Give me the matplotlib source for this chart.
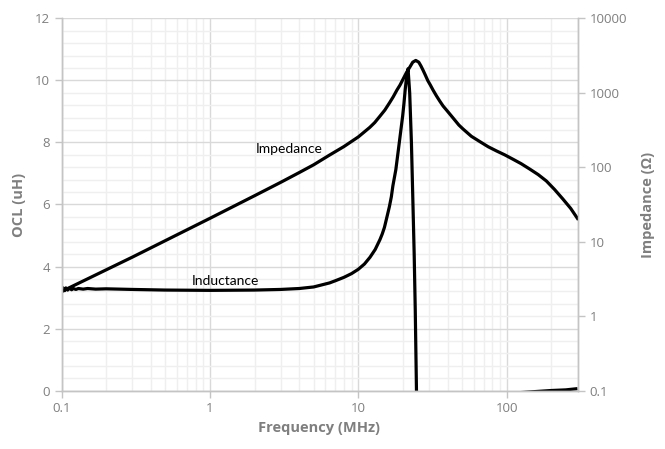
import matplotlib.pyplot as plt
from matplotlib.ticker import FixedLocator, FixedFormatter, NullFormatter, NullLocator
import numpy as np

# inductance (OCL), uH
ind_freq = [0.1, 0.101, 0.102, 0.103, 0.105, 0.107, 0.11, 0.113, 0.117, 0.12, 0.125, 0.13,
            0.14, 0.15, 0.17, 0.2, 0.3, 0.5, 1, 2, 3, 4, 5, 6.4, 7, 8, 9, 10, 11, 12, 13, 14, 14.5, 15,
            15.6, 16.2, 16.7, 17.1, 17.9, 18.7, 19.3, 19.9, 20.3, 20.7, 21.2, 21.64, 22.2, 22.8, 23.3, 23.8,
            24.2, 24.66, 25, 26, 30, 40, 60, 100, 150, 200, 250, 300]
ind_val = [3.18, 3.32, 3.21, 3.30, 3.22, 3.31, 3.24, 3.30, 3.25, 3.29, 3.26, 3.29,
           3.27, 3.29, 3.27, 3.28, 3.26, 3.24, 3.23, 3.24, 3.26, 3.29, 3.34, 3.47, 3.54, 3.65, 3.77, 3.91,
           4.08, 4.30, 4.55, 4.87, 5.05, 5.26,
           5.6, 5.93, 6.25, 6.6, 7.12, 7.83, 8.35, 8.85, 9.25, 9.7, 10.15, 10.38, 9.6, 8.0, 6.2, 4.4,
           2.6, 0.0, -1.5, -3.0, -1.5, -0.6, -0.25, -0.1, -0.04, 0.0, 0.02, 0.06]

# impedance, ohm
imp_freq = [0.1, 0.3, 1, 2, 3, 4, 5, 6.4, 8, 10, 11.95, 12.9, 13.96, 15.1, 16.3, 17.2, 18.2,
            19.1, 20.03, 21.1, 22.23, 23.28, 24.39, 25.55, 26.4, 27.3, 28.3, 29.4, 30.6,
            31.9, 33.6, 35.4, 37.3, 39.3, 41.9, 44.7, 47.6, 50.8, 57.8, 65.8, 75, 85.3,
            97, 109.7, 125, 142.8, 163, 185, 210, 239, 270, 300]
imp_val = [2.14, 6.2, 20.6, 41.5, 62.8, 85, 108, 146, 190, 256, 344, 399, 484, 588, 745, 887, 1090,
           1273, 1531, 1871, 2218, 2588, 2730, 2588, 2313, 2023, 1734, 1463, 1273,
           1091, 914, 776, 665, 588, 504, 431, 370, 327, 261, 222, 189, 166,
           147, 129, 112, 94.8, 79.8, 65.5, 50.4, 37.5, 28.0, 20.5]

x_ticks = [0.1, 1, 10, 100]
x_labels = ['0.1', '1', '10', '100']
left_ticks = [0, 2, 4, 6, 8, 10, 12]
right_ticks = [0.1, 1, 10, 100, 1000, 10000]
right_labels = ['0.1', '1', '10', '100', '1000', '10000']

txt = '#7f7f7f'
fig = plt.figure(figsize=(6.65, 4.49), dpi=100)
ax = fig.add_axes([61.5 / 665, 1 - 390.5 / 449, 516 / 665, 372 / 449])
ax2 = ax.twinx()

ax.set_xscale('log')
ax.set_xlim(0.1, 300)
ax.set_ylim(0, 12)
ax.xaxis.set_major_locator(FixedLocator(x_ticks))
ax.xaxis.set_major_formatter(FixedFormatter(x_labels))
ax.xaxis.set_minor_formatter(NullFormatter())
ax.set_yticks(left_ticks)
ax.set_yticks(np.arange(0, 12.01, 0.4), minor=True)

ax.grid(True, which='major', color='#d9d9d9', linewidth=1.0)
ax.grid(True, which='minor', color='#efefef', linewidth=1.0)
ax.set_axisbelow(True)

ax.plot(ind_freq, ind_val, color='black', linewidth=2.3, solid_capstyle='butt')

ax2.set_yscale('log')
ax2.set_ylim(0.1, 10000)
ax2.yaxis.set_major_locator(FixedLocator(right_ticks))
ax2.yaxis.set_major_formatter(FixedFormatter(right_labels))
ax2.yaxis.set_minor_locator(NullLocator())
ax2.plot(imp_freq, imp_val, color='black', linewidth=2.3, solid_joinstyle='round')

for a in (ax, ax2):
    a.spines['top'].set_visible(False)
    for s in ('left', 'right', 'bottom'):
        a.spines[s].set_color('#c4c4c4')
        a.spines[s].set_linewidth(1.0)

ax.tick_params(axis='both', which='major', colors='#c4c4c4', labelcolor=txt,
               labelsize=9.5, length=5, width=1)
ax.tick_params(axis='x', which='minor', length=0)
ax.tick_params(axis='y', which='minor', length=0)
ax2.tick_params(axis='y', which='major', colors='#c4c4c4', labelcolor=txt,
                labelsize=9.5, length=5, width=1)
for lab in ax.get_xticklabels() + ax.get_yticklabels() + ax2.get_yticklabels():
    lab.set_family('Open Sans')

ax.set_xlabel('Frequency (MHz)', fontsize=10.5, fontweight='bold', color=txt,
              family='Open Sans', labelpad=4)
ax.set_ylabel('OCL (uH)', fontsize=10.5, fontweight='bold', color=txt,
              family='Open Sans', labelpad=6)
ax2.set_ylabel('Impedance (Ω)', fontsize=10.5, fontweight='bold', color=txt,
               family='Open Sans', labelpad=10)

ax.text(3.4, 7.8, 'Impedance', fontsize=10, color='black', family='Lato',
        ha='center', va='center')
ax.text(1.28, 3.53, 'Inductance', fontsize=10, color='black', family='Lato',
        ha='center', va='center')

fig.savefig('out.png', dpi=100)
